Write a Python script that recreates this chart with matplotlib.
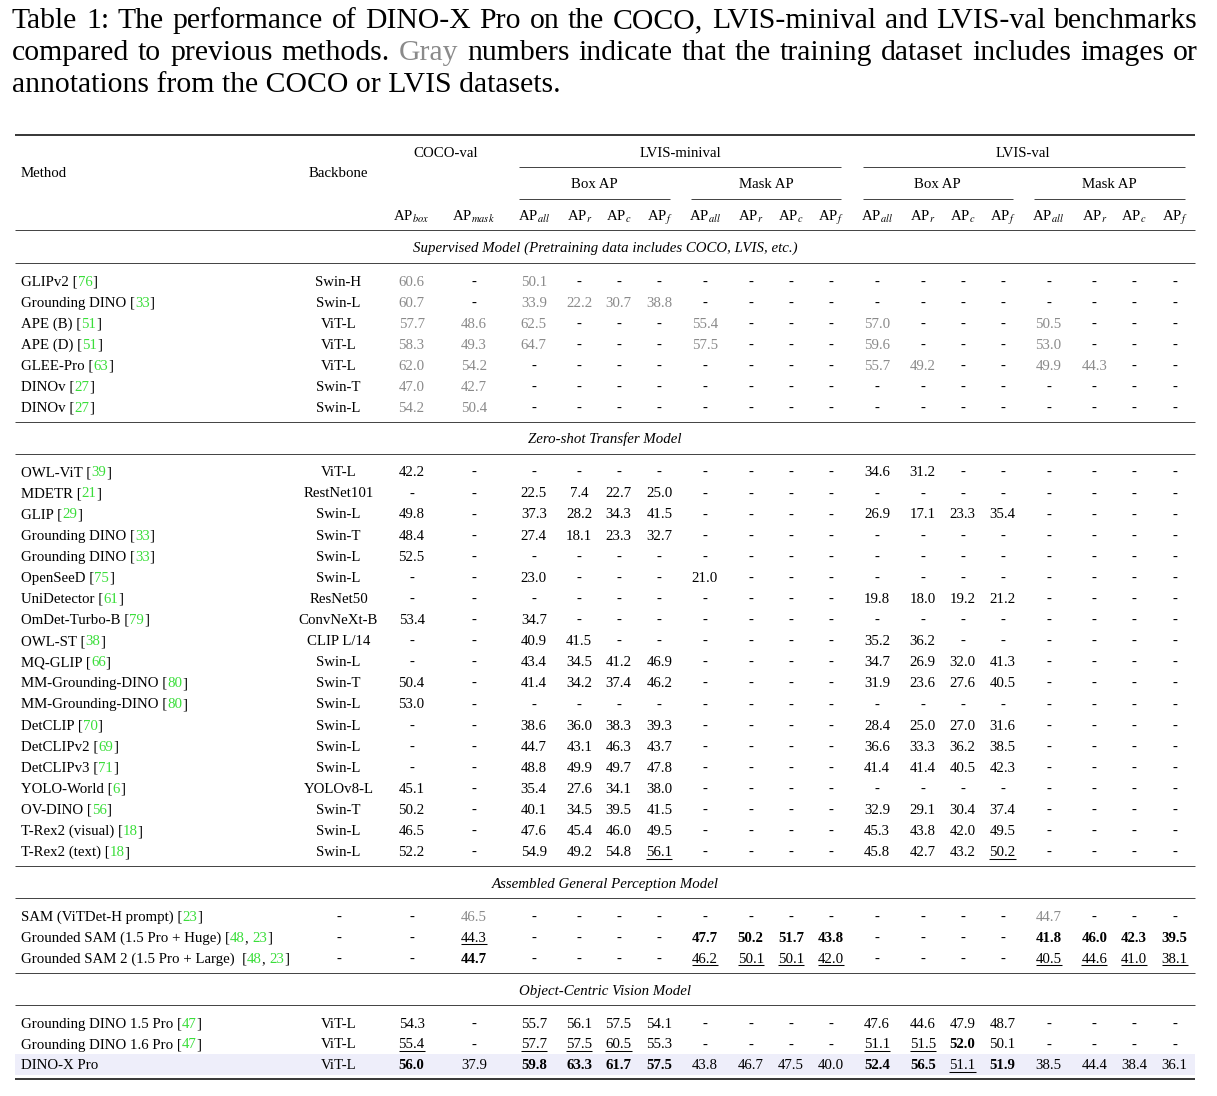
import matplotlib
matplotlib.use("Agg")
import matplotlib.pyplot as plt
from matplotlib.patches import Rectangle
from matplotlib.font_manager import FontProperties, findfont
from matplotlib.ft2font import FT2Font

W, H = 1217, 1096
plt.rcParams["font.family"] = "Liberation Serif"
plt.rcParams["mathtext.fontset"] = "stix"

# ---------------- caption ----------------
CAPTION_LINES = [
    "Table 1: The performance of DINO-X Pro on the COCO, LVIS-minival and LVIS-val benchmarks",
    "compared to previous methods. Gray numbers indicate that the training dataset includes images or",
    "annotations from the COCO or LVIS datasets.",
]
CAPTION_GRAY_WORD = "Gray"

# ---------------- table header ----------------
GROUPS = ["COCO-val", "LVIS-minival", "LVIS-val"]
SUBGROUPS = ["Box AP", "Mask AP", "Box AP", "Mask AP"]
COL_LABELS = [r"AP$_{box}$", r"AP$_{mask}$",
              r"AP$_{all}$", r"AP$_{r}$", r"AP$_{c}$", r"AP$_{f}$",
              r"AP$_{all}$", r"AP$_{r}$", r"AP$_{c}$", r"AP$_{f}$",
              r"AP$_{all}$", r"AP$_{r}$", r"AP$_{c}$", r"AP$_{f}$",
              r"AP$_{all}$", r"AP$_{r}$", r"AP$_{c}$", r"AP$_{f}$"]

# ---------------- supervised ----------------
SUP_TITLE = "Supervised Model (Pretraining data includes COCO, LVIS, etc.)"
SUP_METHODS = ["GLIPv2", "Grounding DINO", "APE (B)", "APE (D)", "GLEE-Pro", "DINOv", "DINOv"]
SUP_CITES = [["76"], ["33"], ["51"], ["51"], ["63"], ["27"], ["27"]]
SUP_BACKBONES = ["Swin-H", "Swin-L", "ViT-L", "ViT-L", "ViT-L", "Swin-T", "Swin-L"]
SUP_VALUES = [
    "60.6 - 50.1 - - - - - - - - - - - - - - -".split(),
    "60.7 - 33.9 22.2 30.7 38.8 - - - - - - - - - - - -".split(),
    "57.7 48.6 62.5 - - - 55.4 - - - 57.0 - - - 50.5 - - -".split(),
    "58.3 49.3 64.7 - - - 57.5 - - - 59.6 - - - 53.0 - - -".split(),
    "62.0 54.2 - - - - - - - - 55.7 49.2 - - 49.9 44.3 - -".split(),
    "47.0 42.7 - - - - - - - - - - - - - - - -".split(),
    "54.2 50.4 - - - - - - - - - - - - - - - -".split(),
]

# ---------------- zero-shot ----------------
ZS_TITLE = "Zero-shot Transfer Model"
ZS_METHODS = ["OWL-ViT", "MDETR", "GLIP", "Grounding DINO", "Grounding DINO", "OpenSeeD",
              "UniDetector", "OmDet-Turbo-B", "OWL-ST", "MQ-GLIP", "MM-Grounding-DINO",
              "MM-Grounding-DINO", "DetCLIP", "DetCLIPv2", "DetCLIPv3", "YOLO-World",
              "OV-DINO", "T-Rex2 (visual)", "T-Rex2 (text)"]
ZS_CITES = [["39"], ["21"], ["29"], ["33"], ["33"], ["75"], ["61"], ["79"], ["38"], ["66"],
            ["80"], ["80"], ["70"], ["69"], ["71"], ["6"], ["56"], ["18"], ["18"]]
ZS_BACKBONES = ["ViT-L", "RestNet101", "Swin-L", "Swin-T", "Swin-L", "Swin-L", "ResNet50",
                "ConvNeXt-B", "CLIP L/14", "Swin-L", "Swin-T", "Swin-L", "Swin-L", "Swin-L",
                "Swin-L", "YOLOv8-L", "Swin-T", "Swin-L", "Swin-L"]
ZS_VALUES = [
    "42.2 - - - - - - - - - 34.6 31.2 - - - - - -".split(),
    "- - 22.5 7.4 22.7 25.0 - - - - - - - - - - - -".split(),
    "49.8 - 37.3 28.2 34.3 41.5 - - - - 26.9 17.1 23.3 35.4 - - - -".split(),
    "48.4 - 27.4 18.1 23.3 32.7 - - - - - - - - - - - -".split(),
    "52.5 - - - - - - - - - - - - - - - - -".split(),
    "- - 23.0 - - - 21.0 - - - - - - - - - - -".split(),
    "- - - - - - - - - - 19.8 18.0 19.2 21.2 - - - -".split(),
    "53.4 - 34.7 - - - - - - - - - - - - - - -".split(),
    "- - 40.9 41.5 - - - - - - 35.2 36.2 - - - - - -".split(),
    "- - 43.4 34.5 41.2 46.9 - - - - 34.7 26.9 32.0 41.3 - - - -".split(),
    "50.4 - 41.4 34.2 37.4 46.2 - - - - 31.9 23.6 27.6 40.5 - - - -".split(),
    "53.0 - - - - - - - - - - - - - - - - -".split(),
    "- - 38.6 36.0 38.3 39.3 - - - - 28.4 25.0 27.0 31.6 - - - -".split(),
    "- - 44.7 43.1 46.3 43.7 - - - - 36.6 33.3 36.2 38.5 - - - -".split(),
    "- - 48.8 49.9 49.7 47.8 - - - - 41.4 41.4 40.5 42.3 - - - -".split(),
    "45.1 - 35.4 27.6 34.1 38.0 - - - - - - - - - - - -".split(),
    "50.2 - 40.1 34.5 39.5 41.5 - - - - 32.9 29.1 30.4 37.4 - - - -".split(),
    "46.5 - 47.6 45.4 46.0 49.5 - - - - 45.3 43.8 42.0 49.5 - - - -".split(),
    "52.2 - 54.9 49.2 54.8 56.1 - - - - 45.8 42.7 43.2 50.2 - - - -".split(),
]

# ---------------- assembled ----------------
ASM_TITLE = "Assembled General Perception Model"
ASM_METHODS = ["SAM (ViTDet-H prompt)", "Grounded SAM (1.5 Pro + Huge)", "Grounded SAM 2 (1.5 Pro + Large) "]
ASM_CITES = [["23"], ["48", "23"], ["48", "23"]]
ASM_BACKBONES = ["-", "-", "-"]
ASM_VALUES = [
    "- 46.5 - - - - - - - - - - - - 44.7 - - -".split(),
    "- 44.3 - - - - 47.7 50.2 51.7 43.8 - - - - 41.8 46.0 42.3 39.5".split(),
    "- 44.7 - - - - 46.2 50.1 50.1 42.0 - - - - 40.5 44.6 41.0 38.1".split(),
]

# ---------------- object-centric ----------------
OBJ_TITLE = "Object-Centric Vision Model"
OBJ_METHODS = ["Grounding DINO 1.5 Pro", "Grounding DINO 1.6 Pro", "DINO-X Pro"]
OBJ_CITES = [["47"], ["47"], None]
OBJ_BACKBONES = ["ViT-L", "ViT-L", "ViT-L"]
OBJ_VALUES = [
    "54.3 - 55.7 56.1 57.5 54.1 - - - - 47.6 44.6 47.9 48.7 - - - -".split(),
    "55.4 - 57.7 57.5 60.5 55.3 - - - - 51.1 51.5 52.0 50.1 - - - -".split(),
    "56.0 37.9 59.8 63.3 61.7 57.5 43.8 46.7 47.5 40.0 52.4 56.5 51.1 51.9 38.5 44.4 38.4 36.1".split(),
]

# cell styles: (section, row, column)
GRAY_SECTIONS = ["sup"]
GRAY_CELLS = [("asm", 0, 1), ("asm", 0, 14)]
BOLD_CELLS = [("asm", 1, c) for c in (6, 7, 8, 9, 14, 15, 16, 17)] + [("asm", 2, 1), ("obj", 1, 12)] + \
             [("obj", 2, c) for c in (0, 2, 3, 4, 5, 10, 11, 13)]
UNDER_CELLS = [("zs", 18, 5), ("zs", 18, 13), ("asm", 1, 1)] + \
              [("asm", 2, c) for c in (6, 7, 8, 9, 14, 15, 16, 17)] + \
              [("obj", 1, c) for c in (0, 2, 3, 4, 10, 11)] + [("obj", 2, 12)]
HIGHLIGHT_ROW = ("obj", 2)

# ---------------- layout ----------------
FS = 10.7
CAP_FS = 21.4
GREEN = "#3ade3a"
GRAY = "#8a8a8a"
X_LEFT, X_RIGHT = 15, 1195
X_METHOD, X_BACKBONE = 21, 338.5
COL_X = [411.6, 473.8, 533.8, 579.3, 618.5, 659.4, 705, 750.7, 791, 831,
         877, 922.7, 962.5, 1002.6, 1048.6, 1094.3, 1134, 1174.6]

fig = plt.figure(figsize=(W / 100, H / 100), dpi=100, facecolor="white")
ax = fig.add_axes([0, 0, 1, 1])
ax.set_xlim(0, W)
ax.set_ylim(H, 0)
ax.axis("off")
fig.canvas.draw()
renderer = fig.canvas.get_renderer()

_ft = FT2Font(findfont(FontProperties(family="Liberation Serif")))
_ft.set_size(FS, 100)


def lin_advance(s):
    # unhinted pen advance of a short string in pixels
    return sum(_ft.load_char(ord(ch)).linearHoriAdvance for ch in s) / 65536.0


def text_width(s, **kw):
    kw.setdefault("fontsize", FS)
    t = ax.text(0, 0, s, **kw)
    w = t.get_window_extent(renderer=renderer).width
    t.remove()
    return w


def put(x, y, s, ha="center", **kw):
    kw.setdefault("fontsize", FS)
    kw.setdefault("color", "black")
    return ax.text(x, y, s, ha=ha, va="baseline", **kw)


def hrule(y, x0=X_LEFT, x1=X_RIGHT, lw=0.65, color="#333333"):
    ax.plot([x0, x1], [y, y], color=color, lw=lw, solid_capstyle="butt")


def justify(line, y, x0, x1):
    words = line.split(" ")
    widths = [text_width(w, fontsize=CAP_FS) for w in words]
    gap = (x1 - x0 - sum(widths)) / (len(words) - 1)
    x = x0
    for w, wd in zip(words, widths):
        put(x, y, w, ha="left", fontsize=CAP_FS,
            color=GRAY if w == CAPTION_GRAY_WORD else "black")
        x += wd + gap


def method_label(x, y, name, cite):
    if not cite:
        put(x, y, name, ha="left")
        return
    head = name + " ["
    put(x, y, head, ha="left")
    # rendered width of the head, trailing bracket included
    cx = x + text_width(head + "|") - text_width("|")
    for j, num in enumerate(cite):
        if j:
            put(cx, y, ", ", ha="left")
            cx += lin_advance(", ")
        put(cx, y, num, ha="left", color=GREEN)
        cx += lin_advance(num)
    put(cx, y, "]", ha="left")


# caption
justify(CAPTION_LINES[0], 28, 12, 1198)
justify(CAPTION_LINES[1], 60, 12, 1198)
put(12, 92, CAPTION_LINES[2], ha="left", fontsize=CAP_FS)

# header
hrule(134.7, lw=1.1, color="black")
put(X_METHOD, 177.3, "Method", ha="left")
put(X_BACKBONE, 177.3, "Backbone")
put(446, 157.3, GROUPS[0])
put(680, 157.3, GROUPS[1])
put(1023, 157.3, GROUPS[2])
hrule(166.7, 519, 841)
hrule(166.7, 862.5, 1185)
for name, (a, b) in zip(SUBGROUPS, [(519, 670), (691, 841), (862.5, 1013), (1034, 1185)]):
    put((a + b) / 2, 188.3, name)
    hrule(199, a, b)
for x, lab in zip(COL_X, COL_LABELS):
    put(x, 221, lab)
hrule(230)

sections = [
    ("sup", SUP_TITLE, SUP_METHODS, SUP_CITES, SUP_BACKBONES, SUP_VALUES, 247.3, 262.7, 280.7, 21.0, 422),
    ("zs", ZS_TITLE, ZS_METHODS, ZS_CITES, ZS_BACKBONES, ZS_VALUES, 438.3, 453.7, 471.3, 21.1, 866),
    ("asm", ASM_TITLE, ASM_METHODS, ASM_CITES, ASM_BACKBONES, ASM_VALUES, 883.3, 898.3, 915.7, 21.0, 973.3),
    ("obj", OBJ_TITLE, OBJ_METHODS, OBJ_CITES, OBJ_BACKBONES, OBJ_VALUES, 990, 1005.3, 1022.8, 20.7, 1079.3),
]

for key, title, methods, cites, backbones, values, ty, rule_y, y0, dy, end_y in sections:
    put((X_LEFT + X_RIGHT) / 2, ty + 5, title, style="italic")
    hrule(rule_y)
    for i, (m, c, bb, row) in enumerate(zip(methods, cites, backbones, values)):
        yc = y0 + i * dy
        yb = yc + 5
        if HIGHLIGHT_ROW == (key, i):
            ax.add_patch(Rectangle((X_LEFT, yc - 10.5), X_RIGHT - X_LEFT, 21,
                                   facecolor="#eeeefa", edgecolor="none", zorder=0))
        method_label(X_METHOD, yb, m, c)
        put(X_BACKBONE, yb, bb)
        for j, (x, v) in enumerate(zip(COL_X, row)):
            kw = {}
            if v != "-" and (key in GRAY_SECTIONS or (key, i, j) in GRAY_CELLS):
                kw["color"] = GRAY
            if (key, i, j) in BOLD_CELLS:
                kw["fontweight"] = "bold"
            put(x, yb, v, **kw)
            if (key, i, j) in UNDER_CELLS:
                w = text_width(v, fontweight=kw.get("fontweight", "normal"))
                ax.plot([x - w / 2, x + w / 2], [yb + 2.6, yb + 2.6], color="black", lw=0.75,
                        solid_capstyle="butt")
    if key == "obj":
        hrule(end_y, lw=1.1, color="black")
    else:
        hrule(end_y)

fig.savefig("out.png", dpi=100, facecolor="white")
